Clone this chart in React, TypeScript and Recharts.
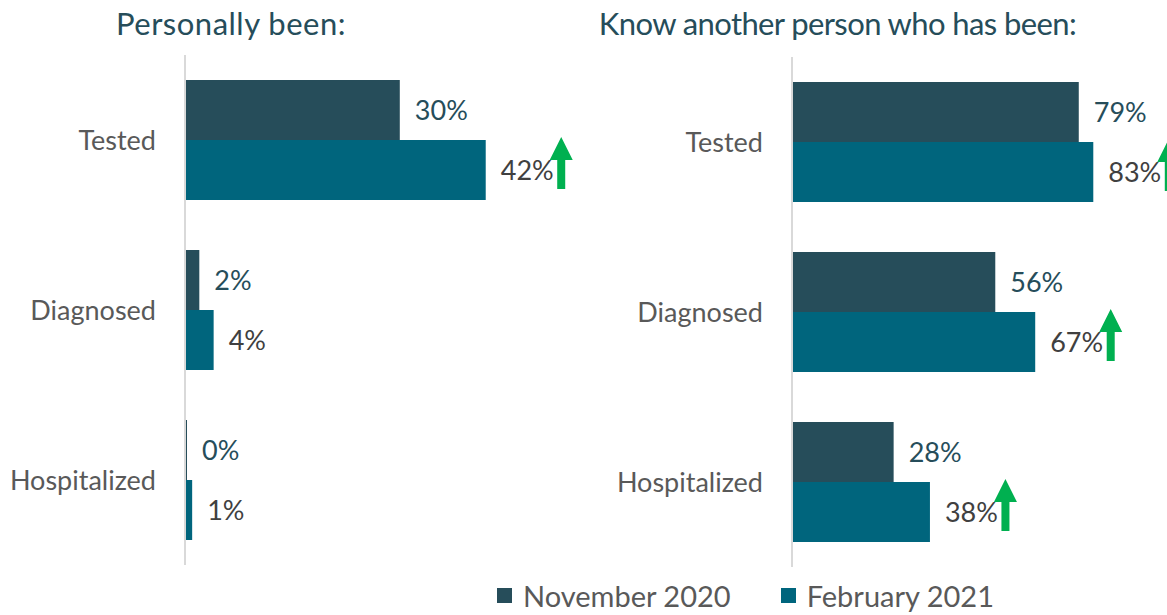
import React from "react";
import { BarChart, Bar, XAxis, YAxis, LabelList } from "recharts";

const categories = ["Tested", "Diagnosed", "Hospitalized"];
const seriesNames = ["November 2020", "February 2021"];

// Personally been
const personalNov = [30, 2, 0];
const personalFeb = [42, 4, 1];
const personalUp = [true, false, false];

// Know another person who has been
const othersNov = [79, 56, 28];
const othersFeb = [83, 67, 38];
const othersUp = [true, true, true];

const NOV = "#264D5A";
const FEB = "#00657D";
const GREEN = "#00B050";
const FONT = "Lato, 'Noto Sans', sans-serif";

const buildRows = (nov: number[], feb: number[], up: boolean[]) =>
  categories.map((category, i) => ({ category, nov: nov[i], feb: feb[i], up: up[i] }));

// label to the right of each bar
const valueLabel = (color: string) => (props: any) => {
  const { x, y, width, height, value } = props;
  return (
    <text
      x={x + width + 15}
      y={y + height / 2}
      dy="0.36em"
      fill={color}
      fontSize={27}
      fontFamily={FONT}
    >
      {value}%
    </text>
  );
};

// Feb bar + green "up" arrow after its label
const febShape = (props: any) => {
  const { x, y, width, height, payload } = props;
  const hx = x + width + 15 + 49;
  const ty = y + height / 2 - 33;
  return (
    <g>
      <rect x={x} y={y} width={Math.max(width, 0)} height={height} fill={FEB} />
      {payload.up && (
        <path
          d={`M${hx + 11.5},${ty} L${hx + 23},${ty + 23} L${hx + 15.5},${ty + 23} L${hx + 15.5},${ty + 52} L${hx + 7.5},${ty + 52} L${hx + 7.5},${ty + 23} L${hx},${ty + 23} Z`}
          fill={GREEN}
        />
      )}
    </g>
  );
};

function Panel({ data, max, width, axisWidth, top, bottom, right }: any) {
  return (
    <BarChart
      width={width}
      height={615}
      data={data}
      layout="vertical"
      margin={{ top, bottom, left: 0, right }}
      barGap={0}
      barSize={60}
      style={{ overflow: "visible" }}
    >
      <XAxis type="number" domain={[0, max]} hide />
      <YAxis
        type="category"
        dataKey="category"
        width={axisWidth}
        axisLine={{ stroke: "#D9D9D9", strokeWidth: 2 }}
        tickLine={false}
        tickMargin={23}
        tick={{ fill: "#595959", fontSize: 27, fontFamily: FONT }}
      />
      <Bar dataKey="nov" name={seriesNames[0]} fill={NOV} minPointSize={2} isAnimationActive={false}>
        <LabelList dataKey="nov" content={valueLabel(NOV)} />
      </Bar>
      <Bar dataKey="feb" name={seriesNames[1]} fill={FEB} shape={febShape} isAnimationActive={false}>
        <LabelList dataKey="feb" content={valueLabel("#404040")} />
      </Bar>
    </BarChart>
  );
}

export default function App() {
  const titleStyle: React.CSSProperties = {
    position: "absolute",
    top: 5,
    fontSize: 31,
    lineHeight: 1.2,
    color: NOV,
    fontFamily: FONT,
    textAlign: "center",
    whiteSpace: "nowrap",
  };
  return (
    <div style={{ position: "absolute", left: 0, top: 0, width: 1167, height: 615, background: "#fff", overflow: "hidden" }}>
      <div style={{ ...titleStyle, left: 0, width: 462, letterSpacing: 0.5 }}>Personally been:</div>
      <div style={{ ...titleStyle, left: 537, width: 601, letterSpacing: -0.6 }}>Know another person who has been:</div>

      <div style={{ position: "absolute", left: 0, top: 0 }}>
        <Panel
          data={buildRows(personalNov, personalFeb, personalUp)}
          max={50}
          width={600}
          axisWidth={185}
          top={55}
          bottom={50}
          right={57}
        />
      </div>
      <div style={{ position: "absolute", left: 580, top: 0 }}>
        <Panel
          data={buildRows(othersNov, othersFeb, othersUp)}
          max={100}
          width={587}
          axisWidth={212}
          top={57}
          bottom={48}
          right={12}
        />
      </div>

      <div style={{ position: "absolute", left: 497, top: 581, display: "flex", alignItems: "center", fontFamily: FONT, fontSize: 29, color: "#595959", lineHeight: "29px" }}>
        {seriesNames.map((name, i) => (
          <div key={name} style={{ display: "flex", alignItems: "center", marginRight: i === 0 ? 50 : 0 }}>
            <span style={{ display: "inline-block", width: 15, height: 15, background: i === 0 ? NOV : FEB, marginRight: 11 }} />
            <span>{name}</span>
          </div>
        ))}
      </div>
    </div>
  );
}
